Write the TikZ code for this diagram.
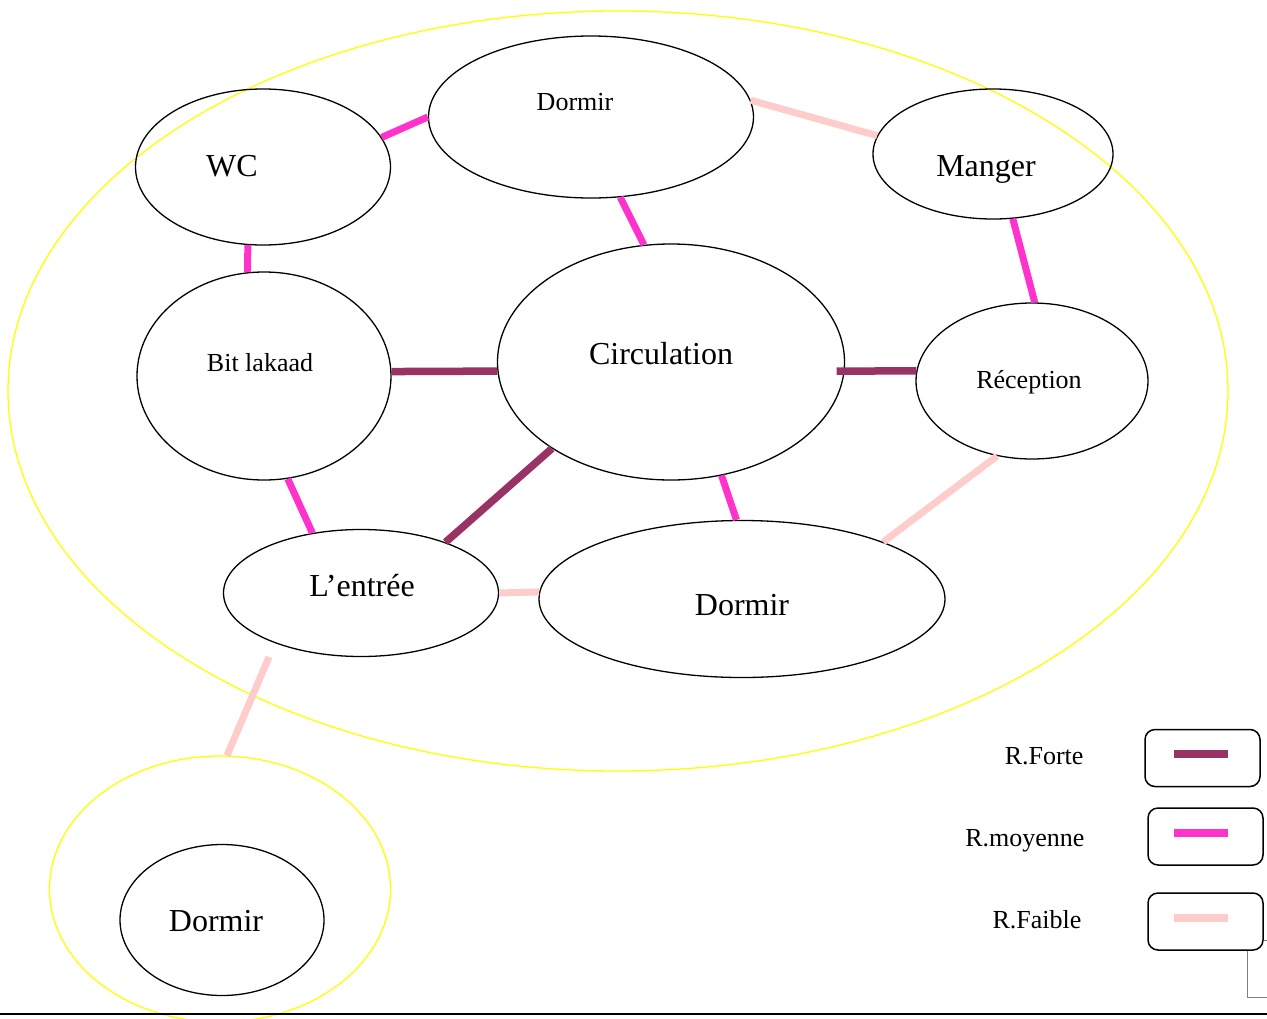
\documentclass[tikz,border=0pt]{standalone}
\usepackage{fontspec}
\setmainfont{Liberation Serif}
\usetikzlibrary{shapes.geometric}
\definecolor{forte}{HTML}{993366}
\definecolor{moyenne}{HTML}{FF33CC}
\definecolor{faible}{HTML}{FFCCCC}
\definecolor{zone}{HTML}{FFFF00}
\begin{document}
\begin{tikzpicture}[x=1pt, y=-1pt,
    piece/.style={draw, ellipse, line width=1.3pt, inner sep=0pt},
    zonebox/.style={draw=zone, ellipse, line width=1.3pt, inner sep=0pt},
    grand/.style={font=\fontsize{32}{38}\selectfont},
    petit/.style={font=\fontsize{26}{31}\selectfont},
    rF/.style={forte, line width=7.5pt},
    rM/.style={moyenne, line width=7pt},
    rf/.style={faible, line width=7pt},
    cle/.style={draw, rounded corners=10pt, line width=1.5pt, minimum width=115pt, minimum height=57pt}]
    \useasboundingbox (0,0) rectangle (1267,1018);

    \node[zonebox, minimum width=1220pt, minimum height=760pt] (maison) at (618,391) {};
    \node[zonebox, minimum width=341pt, minimum height=266pt] (dehors) at (220,889) {};

    \node[piece, minimum width=325pt, minimum height=162pt] (dhaut) at (591,117) {};
    \node[piece, minimum width=255pt, minimum height=156pt] (wc) at (263,167) {};
    \node[piece, minimum width=240pt, minimum height=130pt] (manger) at (993,154) {};
    \node[piece, minimum width=254pt, minimum height=208pt] (bit) at (264,376) {};
    \node[piece, minimum width=347pt, minimum height=236pt] (circ) at (671,362) {};
    \node[piece, minimum width=232pt, minimum height=156pt] (recep) at (1032,381) {};
    \node[piece, minimum width=275pt, minimum height=127pt] (entree) at (361,593) {};
    \node[piece, minimum width=406pt, minimum height=157pt] (dbas) at (742,599) {};
    \node[piece, minimum width=204pt, minimum height=151pt] (dext) at (222,920) {};

    \node[petit] at (575,102) {Dormir};
    \node[grand] at (232,166) {WC};
    \node[grand] at (986,169) {Manger};
    \node[petit] at (260,363) {Bit lakaad};
    \node[grand] at (661,354) {Circulation};
    \node[petit] at (1029,382) {Réception};
    \node[grand] at (362,586) {L’entrée};
    \node[grand] at (742,605) {Dormir};
    \node[grand] at (216,921) {Dormir};

    \draw[rM] (wc.14) -- (dhaut.180);
    \draw[rf] (dhaut.6) -- (manger.171);
    \draw[rM] (dhaut.290) -- (circ.103);
    \draw[rM] (wc.259) -- (bit.99);
    \draw[rM] (manger.287) -- (recep.88);
    \draw[rF] (bit.2) -- (circ.183);
    \draw[rF] ([xshift=-8pt]circ.357) -- (recep.175);
    \draw[rM] (bit.283) -- (entree.129);
    \draw[rF] (circ.216) -- (entree.31);
    \draw[rM] (circ.294) -- (dbas.94);
    \draw[rf] (recep.245) -- (dbas.22);
    \draw[rf] (entree.0) -- (dbas.178);
    \draw[rf] ([shift={(-92,64)}]entree.center) -- (dehors.87);

    \node[petit, anchor=east] at (1087,756) {R.Forte};
    \node[petit, anchor=east] at (1088,841) {R.moyenne};
    \node[petit, anchor=east] at (1085,920) {R.Faible};
    \node[cle] (kF) at (1202.5,758) {};
    \node[cle] (kM) at (1205.5,836.5) {};
    \node[cle] (kf) at (1205.5,921.5) {};
    \draw[rF, line width=8pt] ([xshift=-29pt,yshift=4pt]kF.center) -- ([xshift=25pt,yshift=4pt]kF.center);
    \draw[rM, line width=8pt] ([xshift=-32pt,yshift=3.5pt]kM.center) -- ([xshift=22pt,yshift=3.5pt]kM.center);
    \draw[rf, line width=8pt] ([xshift=-32pt,yshift=3.5pt]kf.center) -- ([xshift=22pt,yshift=3.5pt]kf.center);

    \draw[gray, line width=1pt] ([xshift=41.5pt]kf.south) |- (1267,997);
    \draw[gray, line width=1pt] ([yshift=-18.5pt]kf.east) -- (1267,940);
    \draw[line width=2pt] (0,1014) -- (1267,1014);
\end{tikzpicture}
\end{document}
